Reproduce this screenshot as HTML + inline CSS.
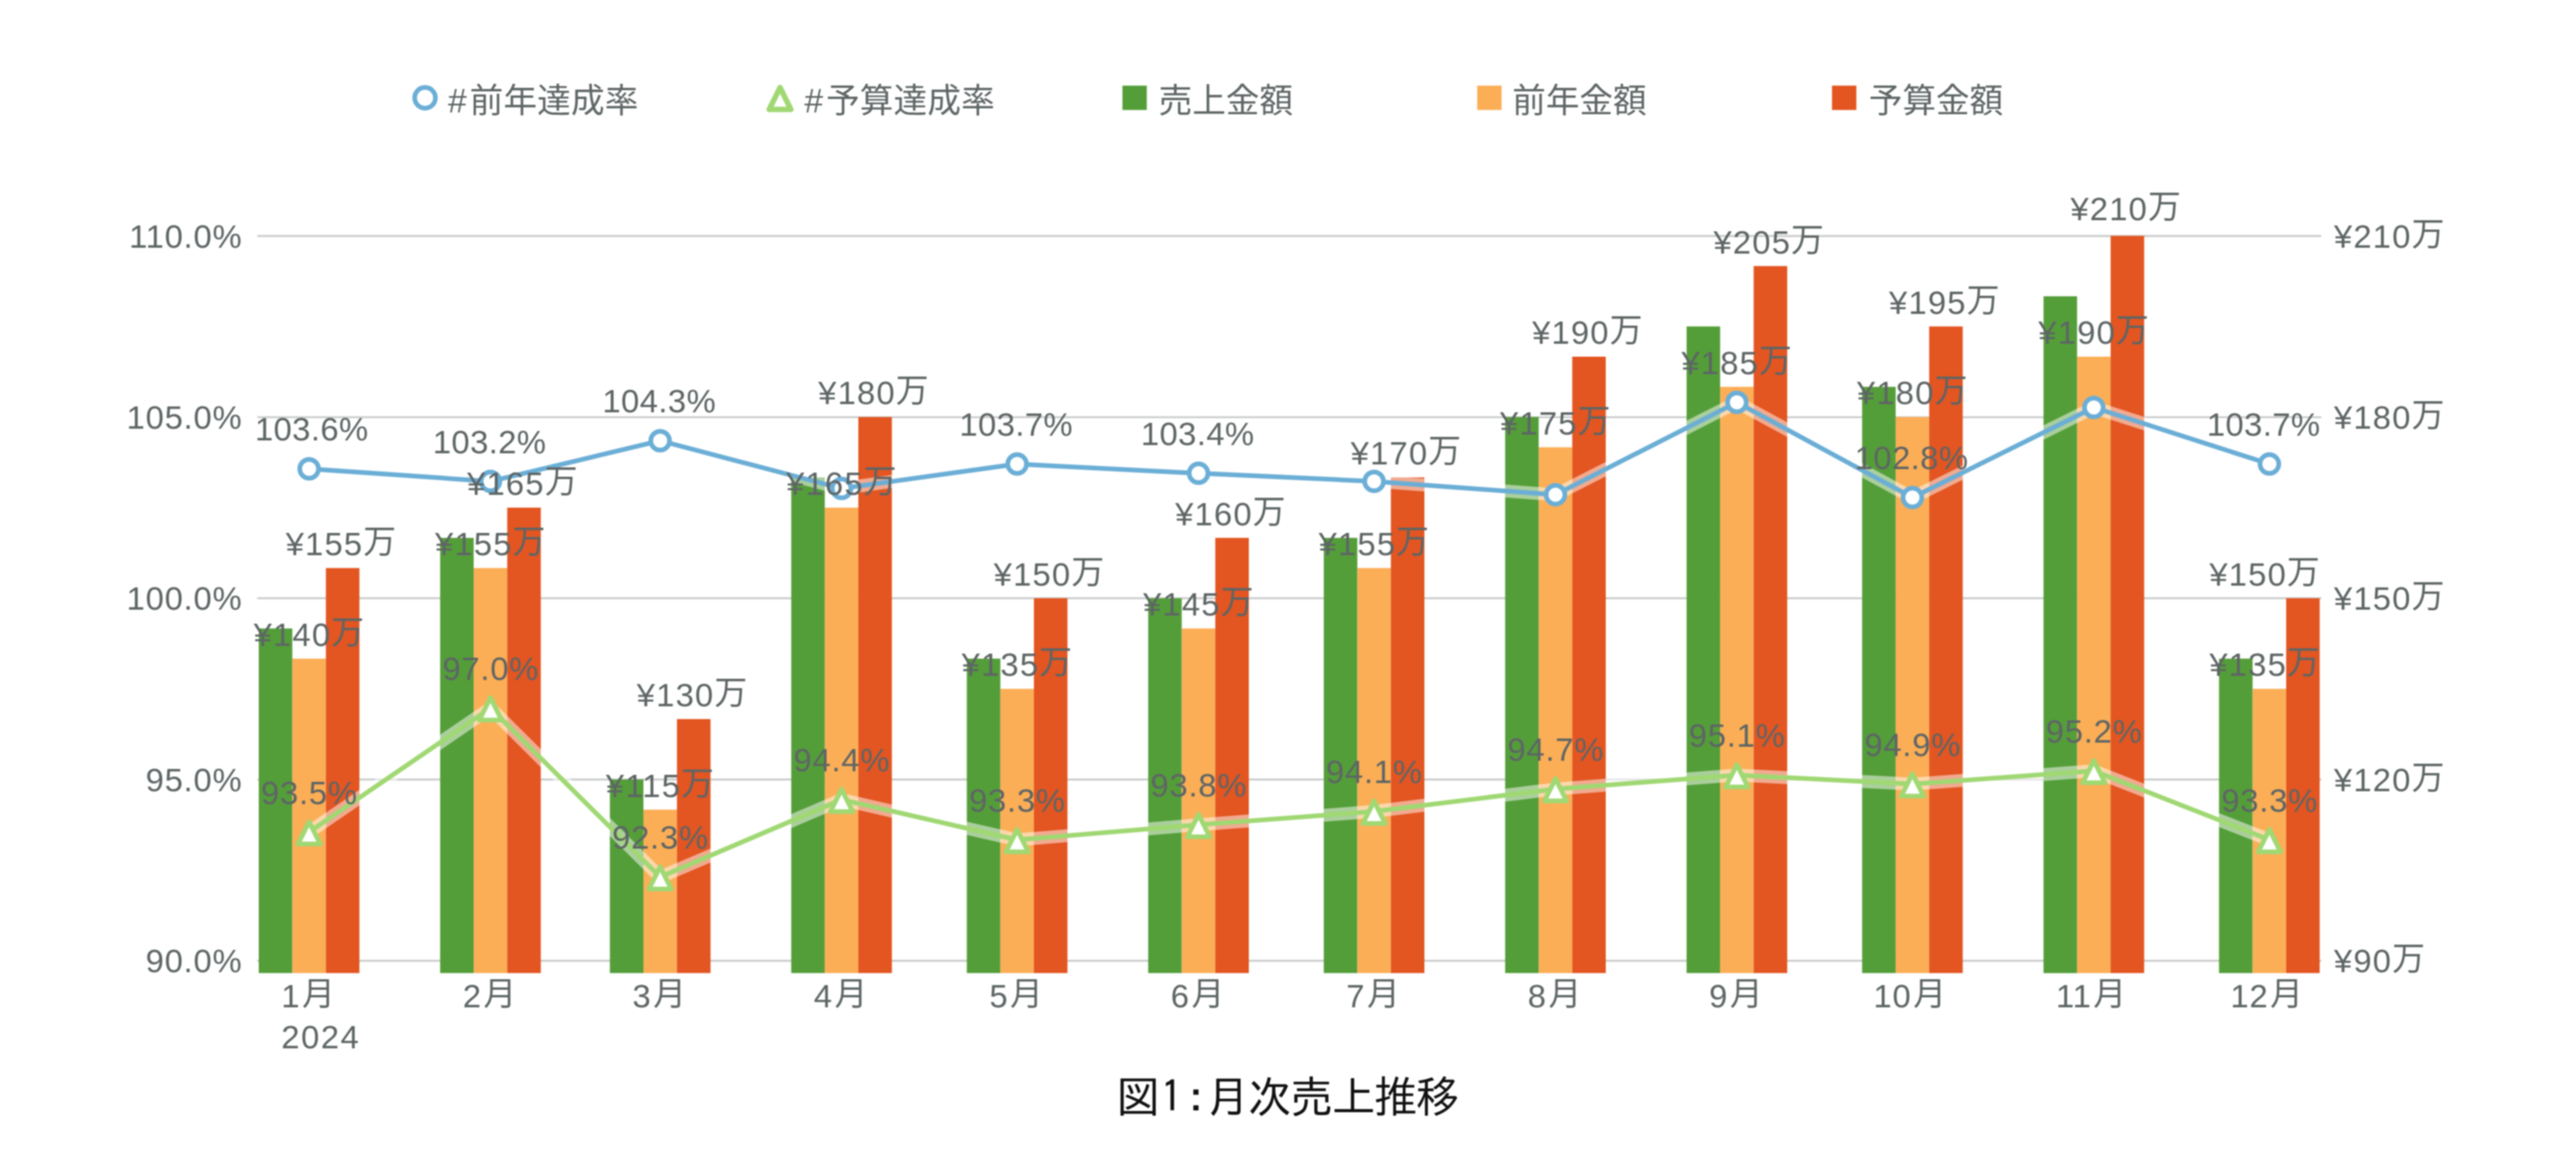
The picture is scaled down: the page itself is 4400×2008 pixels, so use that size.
<!DOCTYPE html>
<html lang="ja"><head><meta charset="utf-8"><title>月次売上推移</title>
<style>html,body{margin:0;padding:0;background:#fff}body{width:4400px;height:2008px;overflow:hidden}svg{display:block;filter:blur(1.3px)}</style>
</head><body>
<svg width="4400" height="2008" viewBox="0 0 4400 2008" font-family='"Liberation Sans","Noto Sans CJK JP",sans-serif' font-size="56" fill="#5e6565">
<g stroke="#cbcdcd" stroke-width="3.4">
<line x1="439.5" y1="403.0" x2="3965.0" y2="403.0"/>
<line x1="439.5" y1="712.4" x2="3965.0" y2="712.4"/>
<line x1="439.5" y1="1021.5" x2="3965.0" y2="1021.5"/>
<line x1="439.5" y1="1331.0" x2="3965.0" y2="1331.0"/>
<line x1="439.5" y1="1640.5" x2="3965.0" y2="1640.5"/>
</g>
<g fill="#549e39">
<rect x="442.0" y="1073.1" width="57.3" height="588.4"/>
<rect x="751.8" y="918.4" width="57.3" height="743.1"/>
<rect x="1041.7" y="1330.9" width="57.3" height="330.6"/>
<rect x="1351.5" y="815.2" width="57.3" height="846.3"/>
<rect x="1651.4" y="1124.6" width="57.3" height="536.9"/>
<rect x="1961.2" y="1021.5" width="57.3" height="640.0"/>
<rect x="2261.1" y="918.4" width="57.3" height="743.1"/>
<rect x="2570.9" y="712.1" width="57.3" height="949.4"/>
<rect x="2880.8" y="557.4" width="57.3" height="1104.1"/>
<rect x="3180.6" y="660.5" width="57.3" height="1001.0"/>
<rect x="3490.5" y="505.9" width="57.3" height="1155.7"/>
<rect x="3790.3" y="1124.6" width="57.3" height="536.9"/>
</g>
<g fill="#fbae56">
<rect x="499.3" y="1124.6" width="57.3" height="536.9"/>
<rect x="809.1" y="969.9" width="57.3" height="691.6"/>
<rect x="1099.0" y="1382.5" width="57.3" height="279.0"/>
<rect x="1408.8" y="866.8" width="57.3" height="794.7"/>
<rect x="1708.7" y="1176.2" width="57.3" height="485.3"/>
<rect x="2018.5" y="1073.1" width="57.3" height="588.4"/>
<rect x="2318.4" y="969.9" width="57.3" height="691.6"/>
<rect x="2628.2" y="763.7" width="57.3" height="897.8"/>
<rect x="2938.1" y="660.5" width="57.3" height="1001.0"/>
<rect x="3237.9" y="712.1" width="57.3" height="949.4"/>
<rect x="3547.8" y="609.0" width="57.3" height="1052.5"/>
<rect x="3847.6" y="1176.2" width="57.3" height="485.3"/>
</g>
<g fill="#e35521">
<rect x="556.6" y="969.9" width="57.3" height="691.6"/>
<rect x="866.4" y="866.8" width="57.3" height="794.7"/>
<rect x="1156.3" y="1227.8" width="57.3" height="433.7"/>
<rect x="1466.1" y="712.1" width="57.3" height="949.4"/>
<rect x="1766.0" y="1021.5" width="57.3" height="640.0"/>
<rect x="2075.8" y="918.4" width="57.3" height="743.1"/>
<rect x="2375.7" y="815.2" width="57.3" height="846.3"/>
<rect x="2685.5" y="609.0" width="57.3" height="1052.5"/>
<rect x="2995.4" y="454.3" width="57.3" height="1207.2"/>
<rect x="3295.2" y="557.4" width="57.3" height="1104.1"/>
<rect x="3605.1" y="402.7" width="57.3" height="1258.8"/>
<rect x="3904.9" y="1021.5" width="57.3" height="640.0"/>
</g>
<polyline points="528.0,800.5 837.8,821.9 1127.6,752.5 1437.5,834.0 1737.3,792.3 2047.2,808.1 2347.0,821.9 2656.9,844.7 2966.7,687.0 3266.6,849.6 3576.4,695.8 3876.3,792.3" fill="none" stroke="#fff" stroke-opacity="0.5" stroke-width="22" stroke-linejoin="round"/>
<polyline points="528.0,800.5 837.8,821.9 1127.6,752.5 1437.5,834.0 1737.3,792.3 2047.2,808.1 2347.0,821.9 2656.9,844.7 2966.7,687.0 3266.6,849.6 3576.4,695.8 3876.3,792.3" fill="none" stroke="#6baed6" stroke-width="8" stroke-linejoin="round"/>
<g fill="#fff" stroke="#6baed6" stroke-width="8" stroke-linejoin="round">
<circle cx="528.0" cy="800.5" r="16"/>
<circle cx="837.8" cy="821.9" r="16"/>
<circle cx="1127.6" cy="752.5" r="16"/>
<circle cx="1437.5" cy="834.0" r="16"/>
<circle cx="1737.3" cy="792.3" r="16"/>
<circle cx="2047.2" cy="808.1" r="16"/>
<circle cx="2347.0" cy="821.9" r="16"/>
<circle cx="2656.9" cy="844.7" r="16"/>
<circle cx="2966.7" cy="687.0" r="16"/>
<circle cx="3266.6" cy="849.6" r="16"/>
<circle cx="3576.4" cy="695.8" r="16"/>
<circle cx="3876.3" cy="792.3" r="16"/>
</g>
<polyline points="528.0,1420.7 837.8,1209.0 1127.6,1497.5 1437.5,1365.3 1737.3,1434.0 2047.2,1408.2 2347.0,1385.5 2656.9,1347.2 2966.7,1323.4 3266.6,1338.8 3576.4,1316.2 3876.3,1434.0" fill="none" stroke="#fff" stroke-opacity="0.5" stroke-width="22" stroke-linejoin="round"/>
<polyline points="528.0,1420.7 837.8,1209.0 1127.6,1497.5 1437.5,1365.3 1737.3,1434.0 2047.2,1408.2 2347.0,1385.5 2656.9,1347.2 2966.7,1323.4 3266.6,1338.8 3576.4,1316.2 3876.3,1434.0" fill="none" stroke="#a0d873" stroke-width="8" stroke-linejoin="round"/>
<g fill="#fff" stroke="#a0d873" stroke-width="8" stroke-linejoin="round">
<path d="M528.0,1403.1L547.0,1441.1L509.0,1441.1Z"/>
<path d="M837.8,1191.4L856.8,1229.4L818.8,1229.4Z"/>
<path d="M1127.6,1479.9L1146.6,1517.9L1108.6,1517.9Z"/>
<path d="M1437.5,1347.7L1456.5,1385.7L1418.5,1385.7Z"/>
<path d="M1737.3,1416.4L1756.3,1454.4L1718.3,1454.4Z"/>
<path d="M2047.2,1390.7L2066.2,1428.7L2028.2,1428.7Z"/>
<path d="M2347.0,1367.9L2366.0,1405.9L2328.0,1405.9Z"/>
<path d="M2656.9,1329.6L2675.9,1367.6L2637.9,1367.6Z"/>
<path d="M2966.7,1305.8L2985.7,1343.8L2947.7,1343.8Z"/>
<path d="M3266.6,1321.2L3285.6,1359.2L3247.6,1359.2Z"/>
<path d="M3576.4,1298.6L3595.4,1336.6L3557.4,1336.6Z"/>
<path d="M3876.3,1416.4L3895.3,1454.4L3857.3,1454.4Z"/>
</g>
<g text-anchor="middle" letter-spacing="1.3">
<text x="583.2" y="948.1" letter-spacing="2" dy="0 0 0 0 -4">¥155万</text>
<text x="528.5" y="1102.8" letter-spacing="2" dy="0 0 0 0 -4">¥140万</text>
<text x="532.5" y="752.3" letter-spacing="0.7">103.6%</text>
<text x="528.5" y="1372.5">93.5%</text>
<text x="893.1" y="845.0" letter-spacing="2" dy="0 0 0 0 -4">¥165万</text>
<text x="838.3" y="948.1" letter-spacing="2" dy="0 0 0 0 -4">¥155万</text>
<text x="836.3" y="773.7" letter-spacing="0.7">103.2%</text>
<text x="838.3" y="1160.8">97.0%</text>
<text x="1182.9" y="1206.0" letter-spacing="2" dy="0 0 0 0 -4">¥130万</text>
<text x="1128.1" y="1360.7" letter-spacing="2" dy="0 0 0 0 -4">¥115万</text>
<text x="1126.1" y="704.3" letter-spacing="0.7">104.3%</text>
<text x="1128.1" y="1449.3">92.3%</text>
<text x="1492.8" y="690.3" letter-spacing="2" dy="0 0 0 0 -4">¥180万</text>
<text x="1438.0" y="845.0" letter-spacing="2" dy="0 0 0 0 -4">¥165万</text>
<text x="1438.0" y="1317.1">94.4%</text>
<text x="1792.6" y="999.7" letter-spacing="2" dy="0 0 0 0 -4">¥150万</text>
<text x="1737.8" y="1154.4" letter-spacing="2" dy="0 0 0 0 -4">¥135万</text>
<text x="1735.8" y="744.1" letter-spacing="0.7">103.7%</text>
<text x="1737.8" y="1385.8">93.3%</text>
<text x="2102.5" y="896.6" letter-spacing="2" dy="0 0 0 0 -4">¥160万</text>
<text x="2047.7" y="1051.3" letter-spacing="2" dy="0 0 0 0 -4">¥145万</text>
<text x="2045.7" y="759.9" letter-spacing="0.7">103.4%</text>
<text x="2047.7" y="1360.0">93.8%</text>
<text x="2402.3" y="793.4" letter-spacing="2" dy="0 0 0 0 -4">¥170万</text>
<text x="2347.5" y="948.1" letter-spacing="2" dy="0 0 0 0 -4">¥155万</text>
<text x="2347.5" y="1337.3">94.1%</text>
<text x="2712.2" y="587.2" letter-spacing="2" dy="0 0 0 0 -4">¥190万</text>
<text x="2657.4" y="741.9" letter-spacing="2" dy="0 0 0 0 -4">¥175万</text>
<text x="2657.4" y="1299.0">94.7%</text>
<text x="3022.0" y="432.5" letter-spacing="2" dy="0 0 0 0 -4">¥205万</text>
<text x="2967.2" y="638.7" letter-spacing="2" dy="0 0 0 0 -4">¥185万</text>
<text x="2967.2" y="1275.2">95.1%</text>
<text x="3321.9" y="535.6" letter-spacing="2" dy="0 0 0 0 -4">¥195万</text>
<text x="3267.1" y="690.3" letter-spacing="2" dy="0 0 0 0 -4">¥180万</text>
<text x="3265.1" y="801.4" letter-spacing="0.7">102.8%</text>
<text x="3267.1" y="1290.6">94.9%</text>
<text x="3631.7" y="376.4" letter-spacing="2" dy="0 0 0 0 -4">¥210万</text>
<text x="3576.9" y="587.2" letter-spacing="2" dy="0 0 0 0 -4">¥190万</text>
<text x="3576.9" y="1268.0">95.2%</text>
<text x="3869.0" y="999.7" letter-spacing="2" dy="0 0 0 0 -4">¥150万</text>
<text x="3869.0" y="1154.4" letter-spacing="2" dy="0 0 0 0 -4">¥135万</text>
<text x="3866.5" y="744.1" letter-spacing="0.7">103.7%</text>
<text x="3876.8" y="1385.8">93.3%</text>
</g>
<g text-anchor="end" letter-spacing="1.3">
<text x="414" y="422.8">110.0%</text>
<text x="414" y="732.2">105.0%</text>
<text x="414" y="1041.3">100.0%</text>
<text x="414" y="1350.8">95.0%</text>
<text x="414" y="1660.3">90.0%</text>
</g>
<g letter-spacing="2">
<text x="3986.5" y="422.8" dy="0 0 0 0 -4">¥210万</text>
<text x="3986.5" y="732.2" dy="0 0 0 0 -4">¥180万</text>
<text x="3986.5" y="1041.3" dy="0 0 0 0 -4">¥150万</text>
<text x="3986.5" y="1350.8" dy="0 0 0 0 -4">¥120万</text>
<text x="3986.5" y="1660.3" dy="0 0 0 -4">¥90万</text>
</g>
<g text-anchor="middle" letter-spacing="1.3">
<text x="527.0" y="1720" dy="0 -4" dx="0 3">1月</text>
<text x="836.8" y="1720" dy="0 -4" dx="0 3">2月</text>
<text x="1126.6" y="1720" dy="0 -4" dx="0 3">3月</text>
<text x="1436.5" y="1720" dy="0 -4" dx="0 3">4月</text>
<text x="1736.3" y="1720" dy="0 -4" dx="0 3">5月</text>
<text x="2046.2" y="1720" dy="0 -4" dx="0 3">6月</text>
<text x="2346.0" y="1720" dy="0 -4" dx="0 3">7月</text>
<text x="2655.9" y="1720" dy="0 -4" dx="0 3">8月</text>
<text x="2965.7" y="1720" dy="0 -4" dx="0 3">9月</text>
<text x="3262.6" y="1720" dy="0 0 -4" dx="0 0 3">10月</text>
<text x="3572.4" y="1720" dy="0 0 -4" dx="0 0 3">11月</text>
<text x="3872.3" y="1720" dy="0 0 -4" dx="0 0 3">12月</text>
</g>
<text x="480.5" y="1790" letter-spacing="2.6">2024</text>
<circle cx="726" cy="167" r="17.7" fill="none" stroke="#6baed6" stroke-width="8"/>
<path d="M1332.4,149.5L1350.9,186.89999999999998L1313.9,186.89999999999998Z" fill="none" stroke="#a0d873" stroke-width="9.4" stroke-linejoin="round"/>
<rect x="1917.2" y="146.2" width="41.6" height="41.6" fill="#549e39"/>
<rect x="2523.2" y="146.2" width="41.6" height="41.6" fill="#fbae56"/>
<rect x="3129.2" y="146.2" width="41.6" height="41.6" fill="#e35521"/>
<g font-size="57.4">
<text x="765.3" y="192" dx="0 4.7" letter-spacing="0.3">#前年達成率</text>
<text x="1374" y="192" dx="0 4.7" letter-spacing="0.3">#予算達成率</text>
<text x="1979" y="192">売上金額</text>
<text x="2583" y="192">前年金額</text>
<text x="3192" y="192">予算金額</text>
</g>
<g fill="#111" font-size="75" font-family='"IPAGothic","Noto Sans CJK JP",sans-serif'><text x="1906.5 1982.5 2005.2 2060 2131.5 2202.5 2274.9 2346.7 2418.3" y="1899.5">図1：月次売上推移</text></g>
</svg>
</body></html>
